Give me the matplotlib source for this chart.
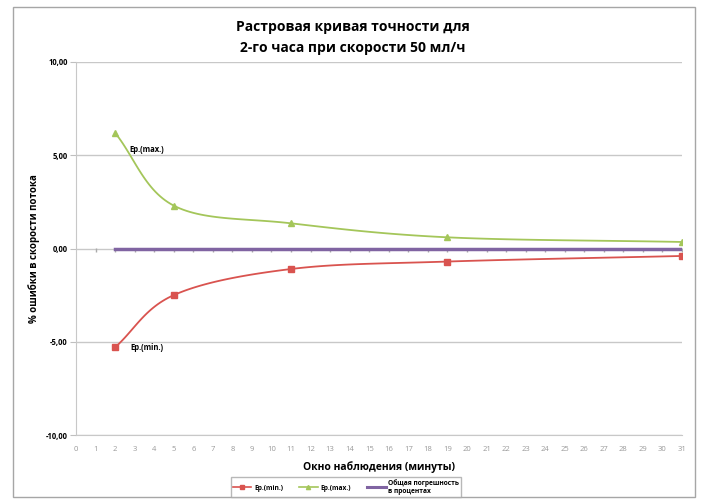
import numpy as np
import matplotlib
matplotlib.use("Agg")
import matplotlib.pyplot as plt
from matplotlib.patches import Rectangle

x_pts = [2, 5, 11, 19, 31]
ep_min = [-5.3, -2.5, -1.1, -0.7, -0.4]
ep_max = [6.2, 2.3, 1.35, 0.6, 0.35]
total = [0, 0, 0, 0, 0]
x_ticks = list(range(0, 32))
y_ticks = [-10, -5, 0, 5, 10]
y_labels = ["-10,00", "-5,00", "0,00", "5,00", "10,00"]

plt.rcParams['font.family'] = ['Open Sans', 'DejaVu Sans']


def smooth(xs, ys, n=30):
    xs = np.asarray(xs, float); ys = np.asarray(ys, float)
    px = np.concatenate([[2 * xs[0] - xs[1]], xs, [2 * xs[-1] - xs[-2]]])
    py = np.concatenate([[2 * ys[0] - ys[1]], ys, [2 * ys[-1] - ys[-2]]])
    ox, oy = [], []
    for i in range(1, len(px) - 2):
        t = np.linspace(0, 1, n)
        for arr, out in ((px, ox), (py, oy)):
            p0, p1, p2, p3 = arr[i - 1], arr[i], arr[i + 1], arr[i + 2]
            out.extend(0.5 * ((2 * p1) + (-p0 + p2) * t + (2 * p0 - 5 * p1 + 4 * p2 - p3) * t ** 2
                              + (-p0 + 3 * p1 - 3 * p2 + p3) * t ** 3))
    return np.array(ox), np.array(oy)


fig = plt.figure(figsize=(7.06, 4.99), dpi=100)
fig.patches.append(Rectangle((13 / 706, 1 - 497 / 499), 682 / 706, 490 / 499, transform=fig.transFigure,
                             fill=False, edgecolor='#a6a6a6', linewidth=1.0))
ax = fig.add_axes([76 / 706, 1 - 435 / 499, 606 / 706, 373 / 499])

c_min = '#d9534f'
c_max = '#a4c65a'
c_tot = '#8064a2'

sx, sy = smooth(x_pts, ep_min)
ax.plot(sx, sy, color=c_min, lw=1.3, zorder=3)
ax.plot(x_pts, ep_min, ls='none', marker='s', ms=4.5, color=c_min, zorder=4)
sx, sy = smooth(x_pts, ep_max)
ax.plot(sx, sy, color=c_max, lw=1.3, zorder=3)
ax.plot(x_pts, ep_max, ls='none', marker='^', ms=4.5, color=c_max, zorder=4)
ax.plot(x_pts, total, color=c_tot, lw=2.5, zorder=3)

# legend proxies
lmin, = ax.plot([], [], color=c_min, lw=1.2, marker='s', ms=3, label='Ep.(min.)')
lmax, = ax.plot([], [], color=c_max, lw=1.2, marker='^', ms=3, label='Ep.(max.)')
ltot, = ax.plot([], [], color=c_tot, lw=2.2, label='Общая погрешность\nв процентах')

ax.set_xlim(0, 31)
ax.set_ylim(-10, 10)
ax.set_xticks(x_ticks)
ax.set_xticklabels([str(v) for v in x_ticks], fontsize=5.5, color='#999999')
ax.set_yticks(y_ticks)
ax.set_yticklabels(y_labels, fontsize=5.5, fontweight='bold')
ax.tick_params(axis='x', length=0, pad=8)
ax.tick_params(axis='y', length=4, color='#bfbfbf', pad=2)
ax.grid(axis='y', color='#c8c8c8', lw=1.0)
ax.set_axisbelow(True)
for s in ['top', 'right']:
    ax.spines[s].set_visible(False)
ax.spines['left'].set_color('#c8c8c8')
ax.spines['bottom'].set_color('#c8c8c8')
# small ticks along zero line
ax.plot(x_ticks[1:], [-0.08] * len(x_ticks[1:]), ls='none', marker='|', ms=3, color='#aaaaaa', zorder=2)

ax.text(2.75, 5.2, 'Ep.(max.)', fontsize=5.5, fontweight='bold')
ax.text(2.8, -5.45, 'Ep.(min.)', fontsize=5.5, fontweight='bold')

ax.set_xlabel('Окно наблюдения (минуты)', fontsize=7.5, fontweight='bold', labelpad=6)
ax.set_ylabel('% ошибки в скорости потока', fontsize=7, fontweight='bold')
ax.yaxis.set_label_coords(-36 / 606, 0.5)

fig.text(0.5, 1 - 27 / 499, 'Растровая кривая точности для', ha='center', va='center', fontsize=10, fontweight='bold')
fig.text(0.5, 1 - 48 / 499, '2-го часа при скорости 50 мл/ч', ha='center', va='center', fontsize=10, fontweight='bold')

leg = fig.legend(handles=[lmin, lmax, ltot], loc='center', bbox_to_anchor=(346 / 706, 1 - 487 / 499), ncol=3,
                 frameon=True, fancybox=False, edgecolor='#a6a6a6', handlelength=2.8,
                 columnspacing=2.4, borderpad=0.25, handletextpad=0.4, labelspacing=0.1,
                 prop={'weight': 'bold', 'size': 4.8})
leg.get_frame().set_linewidth(1.0)

fig.savefig('out.png', dpi=100)
